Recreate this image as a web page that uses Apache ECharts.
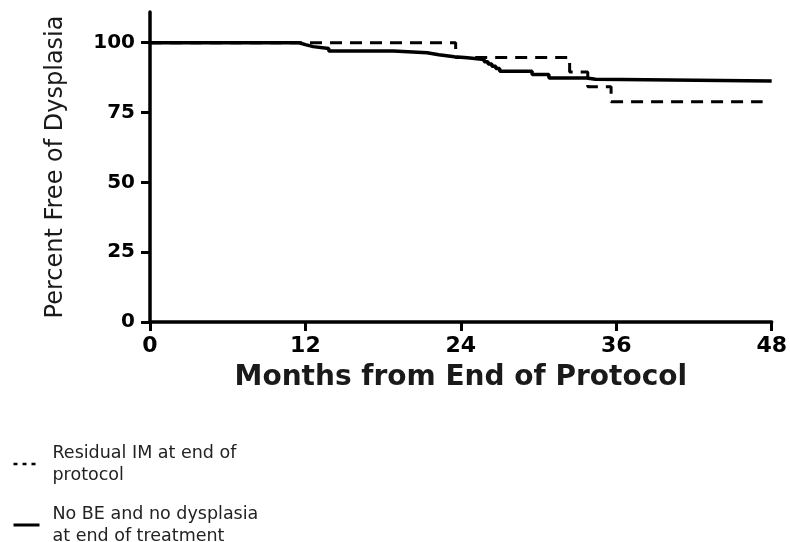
<!DOCTYPE html>
<html>
<head>
<meta charset="utf-8">
<style>
  html, body { margin: 0; padding: 0; background: #fff; }
  #chart { width: 790px; height: 542px; }
</style>
<script src="https://cdn.jsdelivr.net/npm/echarts@6/dist/echarts.min.js"></script>
</head>
<body>
<div id="chart"></div>
<script>
// Kaplan-Meier curves: dysplasia-free survival after the end of protocol
const seriesNames = [
  'Residual IM at end of\nprotocol',
  'No BE and no dysplasia\nat end of treatment'
];

// Residual IM group (event times in months, percent free after each step)
const residualMonths = [0, 23.6, 32.4, 33.8, 35.6, 47.3];
const residualPct    = [100, 94.7, 89.5, 84.2, 78.9, 78.9];

// No BE / no dysplasia group
const noBeMonths = [0, 11.5, 12.0, 12.6, 13.8, 18.8, 21.4, 22.3, 23.5, 24.5,
                    25.8, 26.1, 26.4, 26.7, 27.0, 29.5, 30.8, 33.7, 34.4, 48];
const noBePct    = [100, 99.3, 98.6, 97.9, 97.0, 96.4, 95.7, 95.0, 94.6, 94.0,
                    93.2, 92.4, 91.6, 90.8, 89.8, 88.6, 87.4, 86.9, 86.3, 86.3];

const xTicks = [0, 12, 24, 36, 48];
const yTicks = [0, 25, 50, 75, 100];

const pairs = (xs, ys) => xs.map((x, i) => [x, ys[i]]);

const chart = echarts.init(document.getElementById('chart'), null, { renderer: 'canvas' });

const axisLine = { show: true, lineStyle: { color: '#000', width: 3.5 } };
const axisTick = { show: true, inside: false, length: 9, lineStyle: { color: '#000', width: 3 } };

chart.setOption({
  animation: false,
  backgroundColor: '#fff',
  grid: { left: 150, right: 16, top: 12, bottom: 220, containLabel: false },
  xAxis: {
    type: 'value',
    min: 0, max: 48, interval: 12,
    axisLine, axisTick,
    splitLine: { show: false },
    axisLabel: {
      customValues: xTicks,
      margin: 13,
      color: '#000',
      fontFamily: 'DejaVu Sans', fontWeight: 'bold', fontSize: 22
    },
    name: 'Months from End of Protocol',
    nameLocation: 'middle',
    nameGap: 42,
    nameTextStyle: {
      color: '#1a1a1a', fontFamily: 'DejaVu Sans', fontWeight: 'bold', fontSize: 28
    }
  },
  yAxis: {
    type: 'value',
    min: 0, max: 111,
    axisLine,
    axisTick: Object.assign({ customValues: yTicks }, axisTick),
    splitLine: { show: false },
    axisLabel: {
      customValues: yTicks,
      margin: 15,
      color: '#000',
      fontFamily: 'DejaVu Sans', fontWeight: 'bold', fontSize: 20
    },
    name: 'Percent Free of Dysplasia',
    nameLocation: 'middle',
    nameRotate: 90,
    nameGap: 82,
    nameTextStyle: {
      color: '#1a1a1a', fontFamily: 'DejaVu Sans', fontSize: 24
    }
  },
  legend: {
    orient: 'vertical',
    left: 12, top: 442,
    height: 130,
    padding: 0,
    itemWidth: 26, itemHeight: 14, itemGap: 17,
    itemStyle: { opacity: 0 },
    textStyle: {
      color: '#222', fontFamily: 'DejaVu Sans', fontSize: 17.5, lineHeight: 22,
      padding: [0, 0, 0, 8]
    },
    data: [
      { name: seriesNames[0], lineStyle: { type: [4, 5], width: 2.5 } },
      { name: seriesNames[1], lineStyle: { type: 'solid', width: 3 } }
    ]
  },
  series: [
    {
      name: seriesNames[0],
      type: 'line',
      step: 'end',
      symbol: 'none',
      data: pairs(residualMonths, residualPct),
      lineStyle: { color: '#000', width: 3, type: [12, 8] },
      itemStyle: { color: '#000' },
      z: 2
    },
    {
      name: seriesNames[1],
      type: 'line',
      step: 'end',
      symbol: 'none',
      data: pairs(noBeMonths, noBePct),
      lineStyle: { color: '#000', width: 3.5, type: 'solid' },
      itemStyle: { color: '#000' },
      z: 3
    }
  ]
});
</script>
</body>
</html>
